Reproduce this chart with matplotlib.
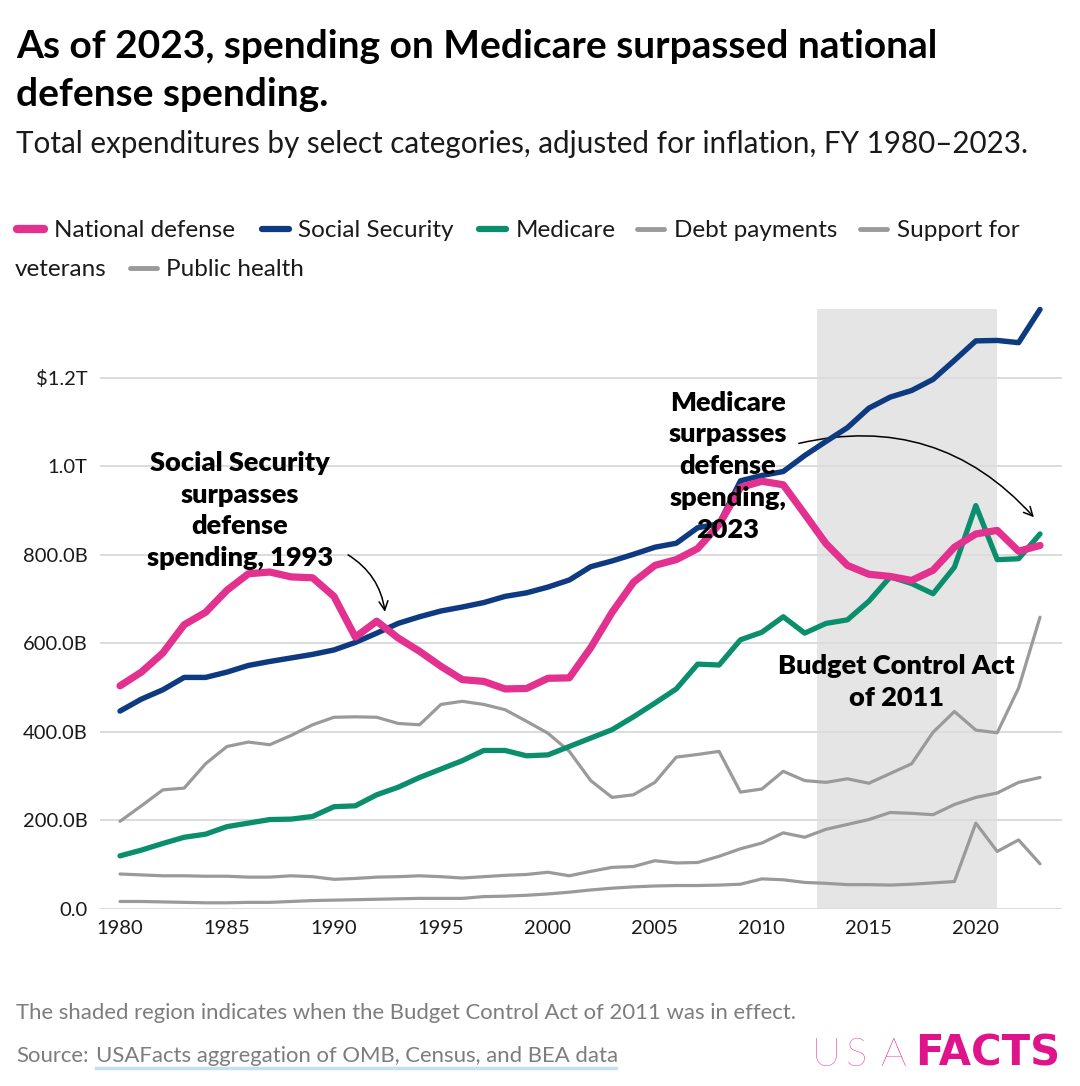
import matplotlib
matplotlib.use("Agg")
import matplotlib.pyplot as plt
from matplotlib.lines import Line2D
from matplotlib.ticker import FuncFormatter

plt.rcParams['font.family'] = ['Lato', 'DejaVu Sans']

# values in billions of dollars (inflation adjusted)
years = list(range(1980, 2024))

national_defense = [504, 535, 578, 642, 670, 720, 757, 761, 750, 748,
                    706, 614, 650, 612, 582, 548, 518, 514, 497, 498,
                    521, 522, 590, 670, 738, 776, 789, 814, 868, 952,
                    966, 958, 892, 825, 776, 756, 751, 742, 765, 817,
                    847, 855, 808, 821]
social_security = [447, 474, 495, 523, 523, 535, 550, 559, 567, 575,
                   585, 602, 623, 645, 660, 673, 682, 692, 706, 714,
                   727, 743, 773, 786, 801, 817, 826, 861, 870, 967,
                   979, 988, 1024, 1056, 1087, 1131, 1156, 1171, 1196, 1239,
                   1283, 1284, 1279, 1354]
medicare = [120, 133, 148, 162, 169, 186, 194, 202, 203, 209,
            231, 233, 258, 275, 297, 316, 335, 358, 358, 346,
            348, 367, 386, 405, 434, 465, 497, 553, 551, 608,
            625, 660, 623, 645, 653, 695, 750, 735, 712, 772,
            911, 789, 791, 847]
debt_payments = [198, 233, 269, 273, 328, 367, 377, 371, 392, 416,
                 433, 434, 433, 419, 416, 462, 469, 462, 450, 424,
                 397, 356, 290, 252, 258, 286, 343, 349, 356, 264,
                 271, 311, 290, 286, 294, 284, 306, 328, 399, 446,
                 404, 398, 499, 659]
veterans = [79, 77, 75, 75, 74, 74, 72, 72, 75, 73,
            67, 69, 72, 73, 75, 73, 70, 73, 76, 78,
            83, 75, 85, 94, 96, 109, 104, 105, 119, 136,
            149, 172, 162, 180, 191, 202, 218, 216, 213, 236,
            252, 262, 286, 297]
public_health = [17, 17, 16, 15, 14, 14, 15, 15, 17, 19,
                 20, 21, 22, 23, 24, 24, 24, 28, 29, 31,
                 34, 38, 43, 47, 50, 52, 53, 53, 54, 56,
                 68, 66, 60, 58, 55, 55, 54, 56, 59, 62,
                 194, 130, 156, 102]

bca_start, bca_end = 2012.6, 2021.0

PINK = '#e2318f'
BLUE = '#0d3a80'
GREEN = '#0a8e6c'
GRAY = '#9a9a9a'
DARK = '#1a1a1a'

W, H = 1080, 1086
fig = plt.figure(figsize=(W / 100, H / 100), dpi=100)


def fx(x):
    return x / W


def fy(y):
    return 1 - y / H


ax = fig.add_axes([fx(100), fy(909), fx(1062) - fx(100), fy(309) - fy(909)])
ax.set_xlim(1980 - 20 / 21.4, 2023 + 22 / 21.4)
ax.set_ylim(0, 1355)

ax.axvspan(bca_start, bca_end, color='#e5e5e5', zorder=0, lw=0)
for v in [0, 200, 400, 600, 800, 1000, 1200]:
    ax.axhline(v, color='#dcdcdc', lw=1.4, zorder=0.5)

kw = dict(solid_joinstyle='round', solid_capstyle='round', clip_on=False)
for series in [public_health, veterans, debt_payments]:
    ax.plot(years, series, color=GRAY, lw=2.3, zorder=2, **kw)
ax.plot(years, medicare, color=GREEN, lw=3.8, zorder=3, **kw)
ax.plot(years, social_security, color=BLUE, lw=3.9, zorder=4, **kw)
ax.plot(years, national_defense, color=PINK, lw=5.2, zorder=5, **kw)


def fmt(v, pos):
    if v == 0:
        return '0.0'
    if v >= 1200:
        return '$%.1fT' % (v / 1000)
    if v >= 1000:
        return '%.1fT' % (v / 1000)
    return '%.1fB' % v


ax.set_yticks([0, 200, 400, 600, 800, 1000, 1200])
ax.yaxis.set_major_formatter(FuncFormatter(fmt))
ax.set_xticks(range(1980, 2021, 5))
ax.tick_params(axis='both', length=0, labelsize=14.5, colors=DARK)
ax.tick_params(axis='y', pad=9)
ax.tick_params(axis='x', pad=8)
for s in ax.spines.values():
    s.set_visible(False)

# annotations
ann = dict(fontsize=19.5, fontweight='heavy', color='black', ha='center',
           va='center', linespacing=1.38, zorder=10)
ax.text(1985.6, 900, 'Social Security\nsurpasses\ndefense\nspending, 1993', **ann)
ax.annotate('', xy=(1992.4, 665), xytext=(1990.55, 803),
            arrowprops=dict(arrowstyle='->', color='black', lw=1.1,
                            connectionstyle='arc3,rad=-0.25', mutation_scale=16))
ax.text(2008.4, 1000, 'Medicare\nsurpasses\ndefense\nspending,\n2023', **ann)
ax.annotate('', xy=(2022.8, 880), xytext=(2011.6, 1050),
            arrowprops=dict(arrowstyle='->', color='black', lw=1.1,
                            connectionstyle='arc3,rad=-0.3', mutation_scale=16))
ax.text(2016.3, 512, 'Budget Control Act\nof 2011', **ann)

# title block
fig.text(fx(16), fy(58), 'As of 2023, spending on Medicare surpassed national',
         fontsize=28, fontweight='bold', color='black', va='baseline')
fig.text(fx(16), fy(106), 'defense spending.',
         fontsize=28, fontweight='bold', color='black', va='baseline')
fig.text(fx(16), fy(153), 'Total expenditures by select categories, adjusted for inflation, FY 1980\u20132023.',
         fontsize=21.3, color=DARK, va='baseline')

# legend drawn by hand to keep the wrapped layout
legend_items = [
    (17, 229, PINK, 6.0, 54, 'National defense'),
    (262, 229, BLUE, 4.5, 298, 'Social Security'),
    (479, 229, GREEN, 4.5, 516, 'Medicare'),
    (637, 229, GRAY, 3.5, 674, 'Debt payments'),
    (860, 229, GRAY, 3.5, 897, 'Support for'),
    (130, 268, GRAY, 3.5, 166, 'Public health'),
]
for hx, hy, col, lw, tx, label in legend_items:
    fig.add_artist(Line2D([fx(hx), fx(hx + 27)], [fy(hy), fy(hy)], color=col,
                          lw=lw, solid_capstyle='round', transform=fig.transFigure))
    fig.text(fx(tx), fy(hy + 8), label, fontsize=17.5, color=DARK, va='baseline')
fig.text(fx(15), fy(276), 'veterans', fontsize=17.5, color=DARK, va='baseline')

# footer
fig.text(fx(16), fy(1019), 'The shaded region indicates when the Budget Control Act of 2011 was in effect.',
         fontsize=15.9, color='#7d7d7d', va='baseline')
fig.text(fx(16), fy(1062), 'Source:', fontsize=15.9, color='#7d7d7d', va='baseline')
fig.text(fx(96), fy(1062), 'USAFacts aggregation of OMB, Census, and BEA data',
         fontsize=15.9, color='#7d7d7d', va='baseline')
fig.add_artist(Line2D([fx(96), fx(616)], [fy(1068), fy(1068)], color='#c6dff0',
                      lw=2.5, transform=fig.transFigure))

for i, ch in enumerate('USA'):
    fig.text(fx(812 + i * 34), fy(1066), ch, fontsize=29, fontweight='light',
             color='#e0148a', va='baseline')
fig.text(fx(915), fy(1066), 'FACTS', fontsize=30, fontweight='bold',
         color='#e0148a', va='baseline', family=['DejaVu Sans'])

fig.savefig('out.png', dpi=100, facecolor='white')
